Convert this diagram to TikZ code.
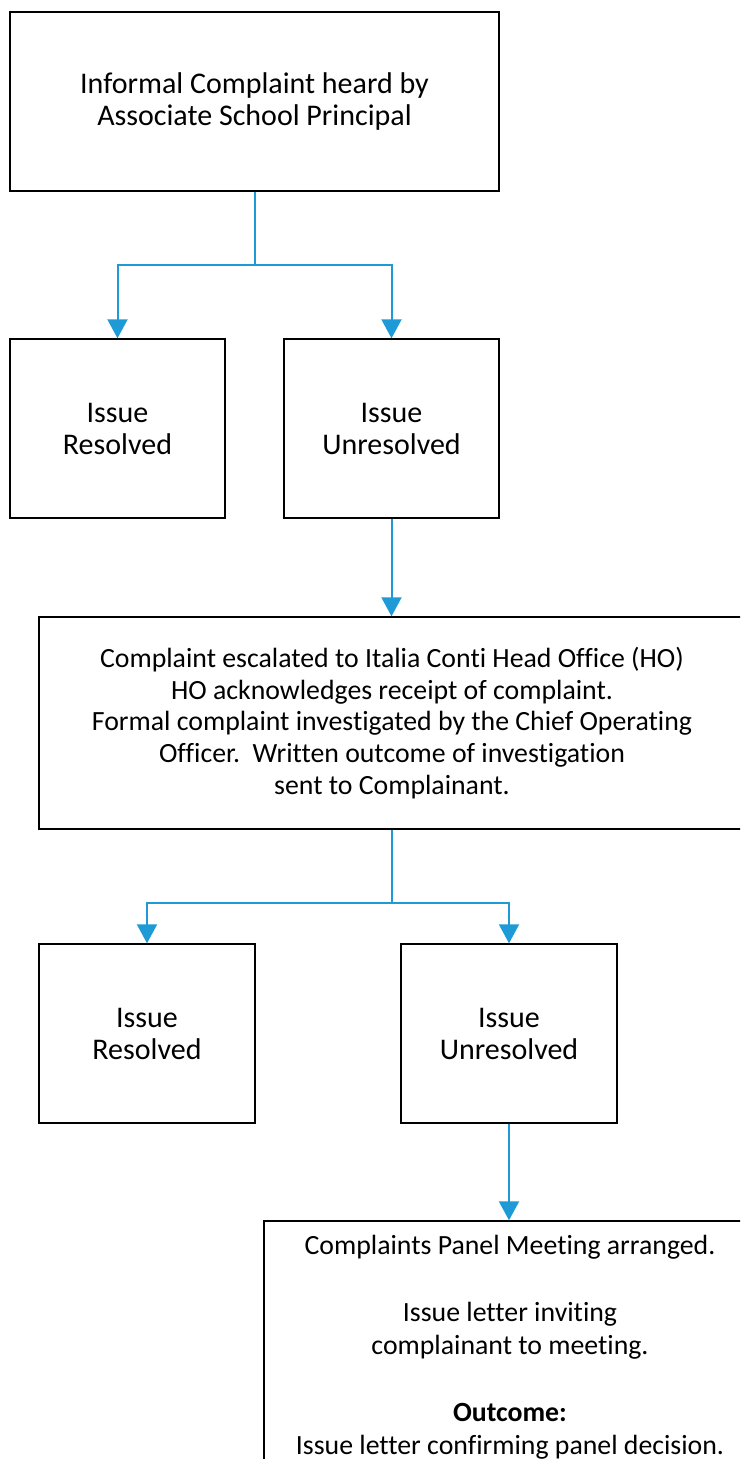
\documentclass[tikz,border=0pt]{standalone}
\usepackage{fontspec}
\setmainfont[RawFeature={-liga}]{Carlito}
\usetikzlibrary{arrows.meta}
\definecolor{conn}{HTML}{1E9BD7}
\tikzset{
  box/.style={draw=black, line width=1.4pt, align=center, inner sep=0pt, font=\fontsize{30}{32}\selectfont},
  longbox/.style={box, font=\fontsize{27.8}{31.75}\selectfont},
  link/.style={draw=conn, line width=2pt},
  arr/.style={link, -{Triangle[width=20pt,length=19pt]}},
}
\begin{document}
\begin{tikzpicture}[x=1pt,y=-1pt]
\clip (0,0) rectangle (740,1459);
\fill[white] (0,0) rectangle (740,1459);
\node[box, minimum width=489pt, minimum height=179pt] (b1) at (254.5,101.5) {Informal Complaint heard by\\Associate School Principal};
\node[box, minimum width=215pt, minimum height=179pt] (b2) at (117.5,428.5) {Issue\\Resolved};
\node[box, minimum width=215pt, minimum height=179pt] (b3) at (391.5,428.5) {Issue\\Unresolved};
\node[longbox, minimum width=706pt, minimum height=212pt] (b4) at (392,723) {Complaint escalated to Italia Conti Head Office (HO)\\HO acknowledges receipt of complaint.\\Formal complaint investigated by the Chief Operating\\Officer.\ \ Written outcome of investigation\\sent to Complainant.};
\node[box, minimum width=216pt, minimum height=179pt] (b5) at (147,1033.5) {Issue\\Resolved};
\node[box, minimum width=216pt, minimum height=179pt] (b6) at (509,1033.5) {Issue\\Unresolved};
\node[longbox, minimum width=492pt, minimum height=253pt, font=\fontsize{27.8}{33.3}\selectfont] (b7) at (510,1347.5) {Complaints Panel Meeting arranged.\\[33.3pt]Issue letter inviting\\complainant to meeting.\\[33.3pt]\textbf{Outcome:}\\Issue letter confirming panel decision.};
\coordinate (j1) at (254.5,265);
\coordinate (j2) at (392,903);
\draw[link] (b1.south) -- (j1);
\draw[arr] (j1) -| (b2.north);
\draw[arr] (j1) -| (b3.north);
\draw[arr] (b3.south) -- (b3.south |- b4.north);
\draw[link] (b4.south) -- (j2);
\draw[arr] (j2) -| (b5.north);
\draw[arr] (j2) -| (b6.north);
\draw[arr] (b6.south) -- (b6.south |- b7.north);
\end{tikzpicture}
\end{document}
